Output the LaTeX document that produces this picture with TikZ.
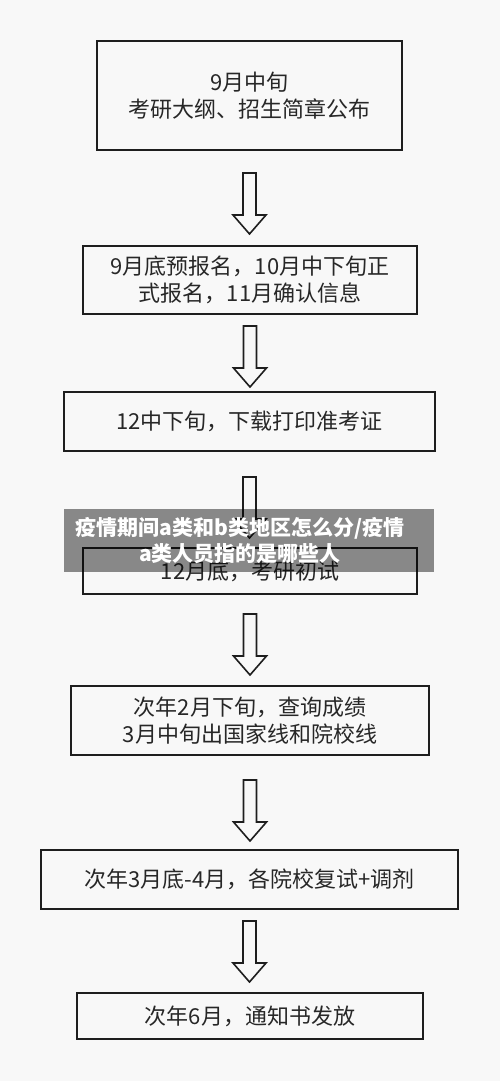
\documentclass[tikz,border=0pt]{standalone}
\usepackage{fontspec}
\newfontfamily\cjk{Noto Sans CJK SC}
\definecolor{encre}{HTML}{272727}
\definecolor{trait}{HTML}{1E1E1E}
\definecolor{fond}{HTML}{F8F8F8}

\begin{document}
\begin{tikzpicture}[x=1pt,y=-1pt]
	\tikzstyle{etape}=[draw=trait,line width=2pt,text=encre,font=\cjk\fontsize{22}{27}\selectfont,align=center,inner sep=0pt]
	\tikzstyle{bandeau}=[fill=black,fill opacity=0.45,minimum width=370pt,minimum height=63pt,inner sep=0pt]
	\tikzstyle{titrage}=[text=white,font=\cjk\bfseries\fontsize{21}{26}\selectfont,align=center,inner sep=0pt]
	\tikzset{fleche/.pic={\draw[draw=trait,line width=1.6pt,fill=fond,line join=miter]
		(-6.5,0) -- (6.5,0) -- (6.5,42) -- (16.5,42) -- (0,61) -- (-16.5,42) -- (-6.5,42) -- cycle;}}
	\fill[fond] (0,0) rectangle (500,1081);
	\useasboundingbox (0,0) rectangle (500,1081);
	\node[etape,minimum width=305pt,minimum height=109pt] (A) at (249.5,95.5) {9月中旬\\考研大纲、招生简章公布};
	\node[etape,minimum width=334pt,minimum height=68pt] (B) at (250,280) {9月底预报名，10月中下旬正\\式报名，11月确认信息};
	\node[etape,minimum width=371pt,minimum height=59pt] (C) at (249.5,421.5) {12中下旬，下载打印准考证};
	\node[etape,minimum width=334pt,minimum height=46pt] (D) at (250,571) {12月底，考研初试};
	\node[etape,minimum width=358pt,minimum height=69pt] (E) at (250,720.5) {次年2月下旬，查询成绩\\3月中旬出国家线和院校线};
	\node[etape,minimum width=417pt,minimum height=59pt] (F) at (249.5,879.5) {次年3月底-4月，各院校复试+调剂};
	\node[etape,minimum width=346pt,minimum height=46pt] (G) at (250,1016) {次年6月，通知书发放};
	\pic (AB) at ([yshift=-22pt]A.south) {fleche};
	\pic (BC) at ([yshift=-11pt]B.south) {fleche};
	\pic (CD) at ([yshift=-25pt]C.south) {fleche};
	\pic (DE) at ([yshift=-19pt]D.south) {fleche};
	\pic (EF) at ([yshift=-24pt]E.south) {fleche};
	\pic (FG) at ([yshift=-11pt]F.south) {fleche};
	\node[bandeau] (titre) at (249,540.5) {};
	\node[titrage] (soustitre) at ([xshift=-9pt]titre.center) {疫情期间a类和b类地区怎么分/疫情\\a类人员指的是哪些人};
\end{tikzpicture}
\end{document}
